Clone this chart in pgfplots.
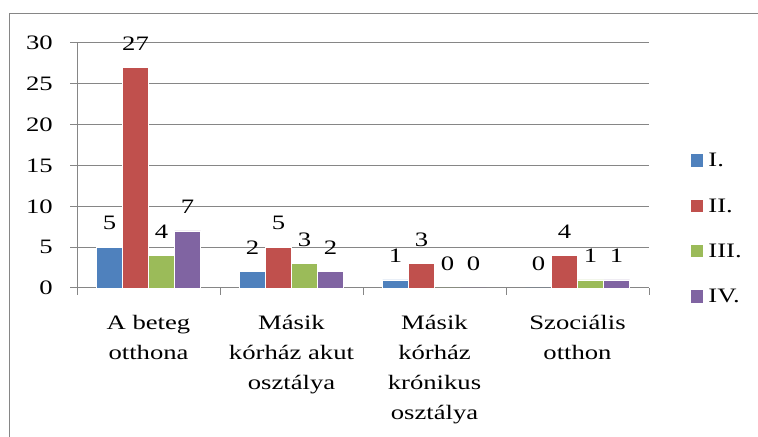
\documentclass[border=0pt]{standalone}
\usepackage{pgfplots}
\pgfplotsset{compat=1.18}
\usepackage{fontspec}
\setmainfont{Liberation Serif}
\newfontfamily\wide{Liberation Serif}[FakeStretch=1.3]
\definecolor{b1}{HTML}{4F81BD}
\definecolor{b2}{HTML}{C0504D}
\definecolor{b3}{HTML}{9BBB59}
\definecolor{b4}{HTML}{8064A2}
\definecolor{gr}{HTML}{868686}
\begin{document}
\wide\fontsize{20.5bp}{30bp}\selectfont
\begin{tikzpicture}[x=1bp,y=1bp, every node/.append style={font=\wide}]
\useasboundingbox (0,0) rectangle (758,437);
\draw[gr, line width=1.2bp] (9.5,-20) -- (9.5,423.5) -- (780,423.5);
\begin{axis}[
  at={(77bp,149bp)}, anchor=south west,
  scale only axis, width=572bp, height=245bp,
  xmin=-0.5, xmax=3.5, ymin=0, ymax=30,
  ybar=0pt, bar width=26bp,
  ytick={0,5,...,30},
  ymajorgrids, grid style={gr, line width=1bp},
  axis x line*=bottom, axis y line*=left,
  axis line style={gr, line width=1bp, -},
  tick align=outside, major tick length=7bp, minor tick length=7bp,
  tick style={gr, line width=1bp},
  xtick={0,1,2,3},
  major x tick style={draw=none},
  minor xtick={-0.5,0.5,1.5,2.5,3.5},
  minor x tick style={gr, line width=1bp},
  xticklabels={{A beteg\\otthona},{Másik\\kórház akut\\osztálya},{Másik\\kórház\\krónikus\\osztálya},{Szociális\\otthon}},
  xticklabel style={font=\wide, align=center, inner sep=0pt, anchor=north, yshift=-20bp},
  yticklabel style={font=\wide, inner sep=0pt, anchor=east, xshift=-17bp},
  /pgf/number format/assume math mode=true,
  nodes near coords,
  every node near coord/.append style={font=\wide, anchor=center, yshift=24bp, inner sep=0pt, text=black},
  legend style={font=\wide, at={(1.0717,0.55)}, anchor=north west, draw=none, fill=none, inner sep=0pt, outer sep=0pt,
    row sep=31.4bp, legend cell align=left,
    nodes={inner xsep=5bp, inner ysep=0pt, text height=13.6bp, text depth=0bp}},
  legend image code/.code={\fill[#1] (0bp,-6.75bp) rectangle (13bp,6.75bp);},
]
\addplot[fill=b1, draw=white, line width=0.4bp] coordinates {(0,5) (1,2) (2,1) (3,0)};
\addplot[fill=b2, draw=white, line width=0.4bp] coordinates {(0,27) (1,5) (2,3) (3,4)};
\addplot[fill=b3, draw=white, line width=0.4bp] coordinates {(0,4) (1,3) (2,0) (3,1)};
\addplot[fill=b4, draw=white, line width=0.4bp] coordinates {(0,7) (1,2) (2,0) (3,1)};
\legend{I.,II.,III.,IV.}
\end{axis}
\end{tikzpicture}
\end{document}
